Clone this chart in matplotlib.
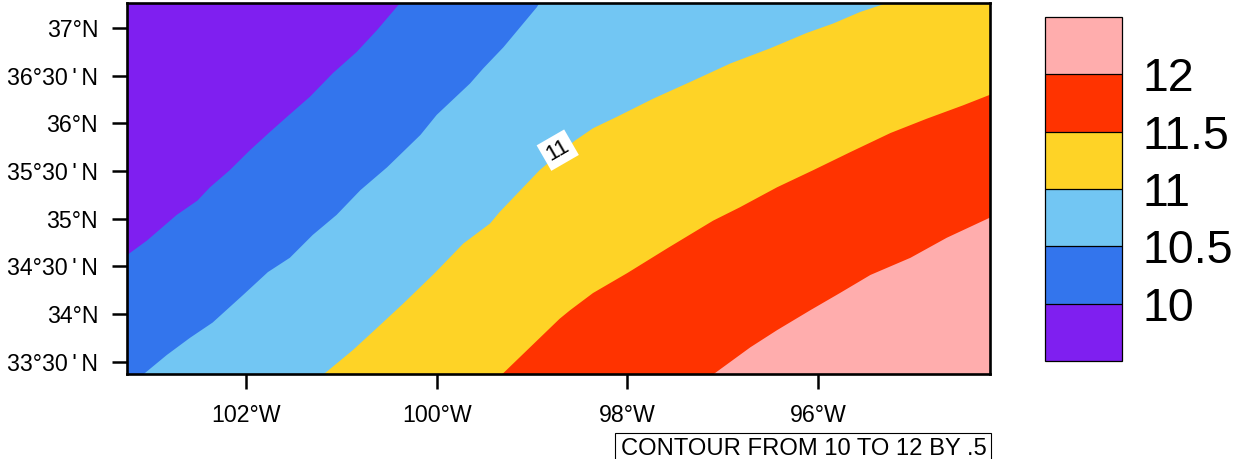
import matplotlib
matplotlib.use("Agg")
import matplotlib.pyplot as plt
from matplotlib.cm import ScalarMappable
from matplotlib.colors import BoundaryNorm, ListedColormap
from matplotlib.patches import Rectangle

plt.rcParams["font.family"] = ["Liberation Sans", "DejaVu Sans"]

# contour lines, lon / lat, south-west to north-east
lon_10 = [-103.35, -103.245, -103.04, -102.727, -102.51, -102.378, -102.17, -101.958, -101.75, -101.57,
          -101.33, -101.087, -100.84, -100.626, -100.405, -100.35]
lat_10 = [34.53, 34.62, 34.77, 35.04, 35.19, 35.33, 35.51, 35.72, 35.91, 36.07,
          36.28, 36.53, 36.75, 36.98, 37.24, 37.30]

lon_105 = [-103.16, -103.06, -102.83, -102.587, -102.35, -102.03, -101.77, -101.54, -101.30, -101.05,
           -100.80, -100.52, -100.17, -100.0, -99.65, -99.51, -99.30, -98.95, -98.90]
lat_105 = [33.30, 33.38, 33.57, 33.75, 33.91, 34.20, 34.44, 34.59, 34.83, 35.04,
           35.30, 35.54, 35.88, 36.09, 36.42, 36.58, 36.80, 37.22, 37.30]

lon_11 = [-101.27, -101.17, -100.88, -100.63, -100.35, -100.02, -99.72, -99.44, -99.34, -98.92, -98.55,
          -98.36, -98.11, -97.73, -97.31, -96.92, -96.50, -96.12, -95.84, -95.56, -95.35, -95.2]
lat_11 = [33.30, 33.38, 33.62, 33.85, 34.11, 34.43, 34.74, 34.95, 35.07, 35.51, 35.82,
          35.95, 36.07, 36.26, 36.45, 36.63, 36.79, 36.95, 37.05, 37.17, 37.24, 37.30]

lon_115 = [-99.42, -99.30, -98.71, -98.60, -98.36, -98.00, -97.58, -97.10, -96.82, -96.43, -96.05,
           -95.66, -95.24, -94.86, -94.48, -94.20, -94.10]
lat_115 = [33.30, 33.38, 33.95, 34.04, 34.22, 34.43, 34.69, 34.98, 35.12, 35.33, 35.51,
           35.70, 35.90, 36.05, 36.19, 36.30, 36.34]

lon_12 = [-97.20, -97.08, -96.71, -96.43, -96.08, -95.77, -95.45, -95.03, -94.65, -94.20, -94.10]
lat_12 = [33.30, 33.38, 33.65, 33.83, 34.04, 34.22, 34.41, 34.59, 34.80, 35.01, 35.06]

levels = [10, 10.5, 11, 11.5, 12]
colors = ["#7F1FF0", "#3375ED", "#72C6F3", "#FED326", "#FF3300", "#FFADAD"]

lon_ticks = [-102, -100, -98, -96]
lon_labels = ["102°W", "100°W", "98°W", "96°W"]
lat_ticks = [33.5, 34, 34.5, 35, 35.5, 36, 36.5, 37]
lat_labels = ["33°30\u2009'\u2009N", "34°N", "34°30\u2009'\u2009N", "35°N", "35°30\u2009'\u2009N", "36°N",
              "36°30\u2009'\u2009N", "37°N"]

W, H = 1235, 459
fig = plt.figure(figsize=(W / 100, H / 100), dpi=100)
ax = fig.add_axes([127 / W, 1 - 374 / H, (990 - 127) / W, (374 - 3) / H])

# lowest class is the axes background, each class paints over the one before
ax.set_facecolor(colors[0])
lines = [(lon_10, lat_10), (lon_105, lat_105), (lon_11, lat_11), (lon_115, lat_115), (lon_12, lat_12)]
for (xs, ys), c in zip(lines, colors[1:]):
    ax.fill(xs + [-94.0, -94.0, xs[0]], ys + [37.4, 33.2, 33.2], color=c, lw=0)

ax.set_xlim(-103.248, -94.196)
ax.set_ylim(33.37, 37.265)
ax.set_xticks(lon_ticks, lon_labels)
ax.set_yticks(lat_ticks, lat_labels)
ax.tick_params(axis="x", length=10.8, width=1.8, labelsize=16.7, pad=11)
ax.tick_params(axis="y", length=10.8, width=1.8, labelsize=16.7, pad=10)
for side in ax.spines.values():
    side.set_linewidth(1.9)

ax.text(-98.73, 35.72, "11", fontsize=16, rotation=30, ha="center", va="center",
        rotation_mode="anchor", bbox=dict(facecolor="white", edgecolor="none", pad=3))

# label bar on the right
cax = fig.add_axes([1045 / W, 1 - 361 / H, (1122 - 1045) / W, (361 - 17) / H])
bounds = [9.5] + levels + [12.5]
sm = ScalarMappable(norm=BoundaryNorm(bounds, 6), cmap=ListedColormap(colors))
cb = fig.colorbar(sm, cax=cax, ticks=levels, drawedges=True)
cb.ax.set_yticklabels(["10", "10.5", "11", "11.5", "12"])
cb.ax.minorticks_off()
cb.ax.tick_params(length=0, labelsize=33.5, pad=15)
cb.outline.set_linewidth(0.9)
cb.dividers.set_linewidth(0.9)
cb.dividers.set_color("black")

# info box, cut by the bottom edge of the figure
fig.add_artist(Rectangle((614.5 / W, 1 - 470 / H), (990.5 - 614.5) / W, (470 - 432.5) / H,
                         transform=fig.transFigure, facecolor="none", edgecolor="black", lw=0.8))
fig.text(621 / W, 1 - 455 / H, "CONTOUR FROM 10 TO 12 BY .5", fontsize=17.1, ha="left", va="baseline")

fig.savefig("out.png", dpi=100)
